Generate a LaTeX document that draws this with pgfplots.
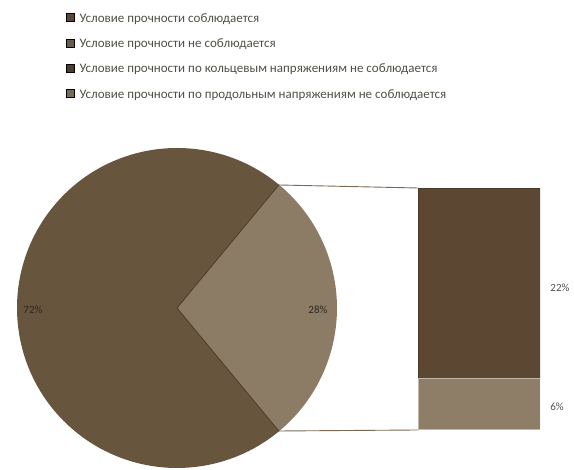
\documentclass[border=0pt]{standalone}
\usepackage{fontspec}
\setmainfont{Carlito}
\usepackage{pgfplots}
\usepackage{pgfplotstable}
\pgfplotsset{compat=1.18}
\definecolor{cbig}{HTML}{67553E}
\definecolor{cother}{HTML}{8C7C66}
\definecolor{cring}{HTML}{5C4832}
\definecolor{clong}{HTML}{8E7E68}
\definecolor{cline}{HTML}{7A6A55}
\definecolor{ctext}{HTML}{505048}
\definecolor{clab}{HTML}{2E281E}
\pgfplotstableread{
part value
ring 22
long 6
}\bartable
\begin{document}
\begin{tikzpicture}
% values of the pie
\def\pOk{72}\def\pNot{28}
\pgfmathsetmacro{\half}{\pNot*3.6/2}
\pgfmathsetmacro{\endang}{360-\half}
\begin{axis}[x=1pt,y=1pt,xmin=0,xmax=574,ymin=0,ymax=470,
  hide axis,clip=false,scale only axis,at={(0,0)},anchor=south west,
  legend style={at={(axis cs:66,459)},anchor=north west,draw=none,fill=none,
    font=\fontsize{13}{15}\selectfont\color{ctext},
    row sep=11pt,inner sep=0pt,cells={anchor=west},
    legend image code/.code={\fill[#1] (0pt,-3pt) rectangle (8pt,5pt);}},
  legend cell align=left]
\addlegendimage{fill=cbig!85!black}
\addlegendentry{\hspace{3pt}Условие прочности соблюдается}
\addlegendimage{fill=cother!75!black}
\addlegendentry{\hspace{3pt}Условие прочности не соблюдается}
\addlegendimage{fill=cring!85!black}
\addlegendentry{\hspace{3pt}Условие прочности по кольцевым напряжениям не соблюдается}
\addlegendimage{fill=clong!85!black}
\addlegendentry{\hspace{3pt}Условие прочности по продольным напряжениям не соблюдается}
\fill[cbig] (axis cs:177,162) -- ++(\half:160pt) arc[start angle=\half,end angle=\endang,radius=160pt] -- cycle;
\fill[cother] (axis cs:177,162) -- ++(-\half:160pt) arc[start angle=-\half,end angle=\half,radius=160pt] -- cycle;
\draw[cbig!70!black,line width=0.8pt] (axis cs:177,162) -- ++(\half:160pt);
\draw[cbig!70!black,line width=0.8pt] (axis cs:177,162) -- ++(-\half:160pt);
\draw[cline,line width=0.9pt] (axis cs:279,285) -- (axis cs:418,282);
\draw[cline,line width=0.9pt] (axis cs:279,39) -- (axis cs:418,40);
\node[font=\fontsize{11}{12}\selectfont,text=clab] at (axis cs:33,160) {72\%};
\node[font=\fontsize{11}{12}\selectfont,text=clab] at (axis cs:318,160) {28\%};
\node[font=\fontsize{11}{12}\selectfont,text=ctext] at (axis cs:560,182) {22\%};
\node[font=\fontsize{11}{12}\selectfont,text=ctext] at (axis cs:557,63) {6\%};
\end{axis}
\begin{axis}[at={(418pt,40pt)},anchor=south west,width=122pt,height=242pt,
  scale only axis,xmin=0,xmax=1,ymin=0,ymax=28,hide axis,
  ybar stacked,bar width=122pt,bar shift=0pt]
\addplot[fill=clong,draw=clong!55!white,line width=1pt] table[x expr=0.5,y=value,skip coords between index={0}{1}] {\bartable};
\addplot[fill=cring,draw=cring!80!black,line width=0.6pt] table[x expr=0.5,y=value,skip coords between index={1}{2}] {\bartable};
\end{axis}
\pgfresetboundingbox
\path (0,0) rectangle (574pt,470pt);
\end{tikzpicture}
\end{document}
